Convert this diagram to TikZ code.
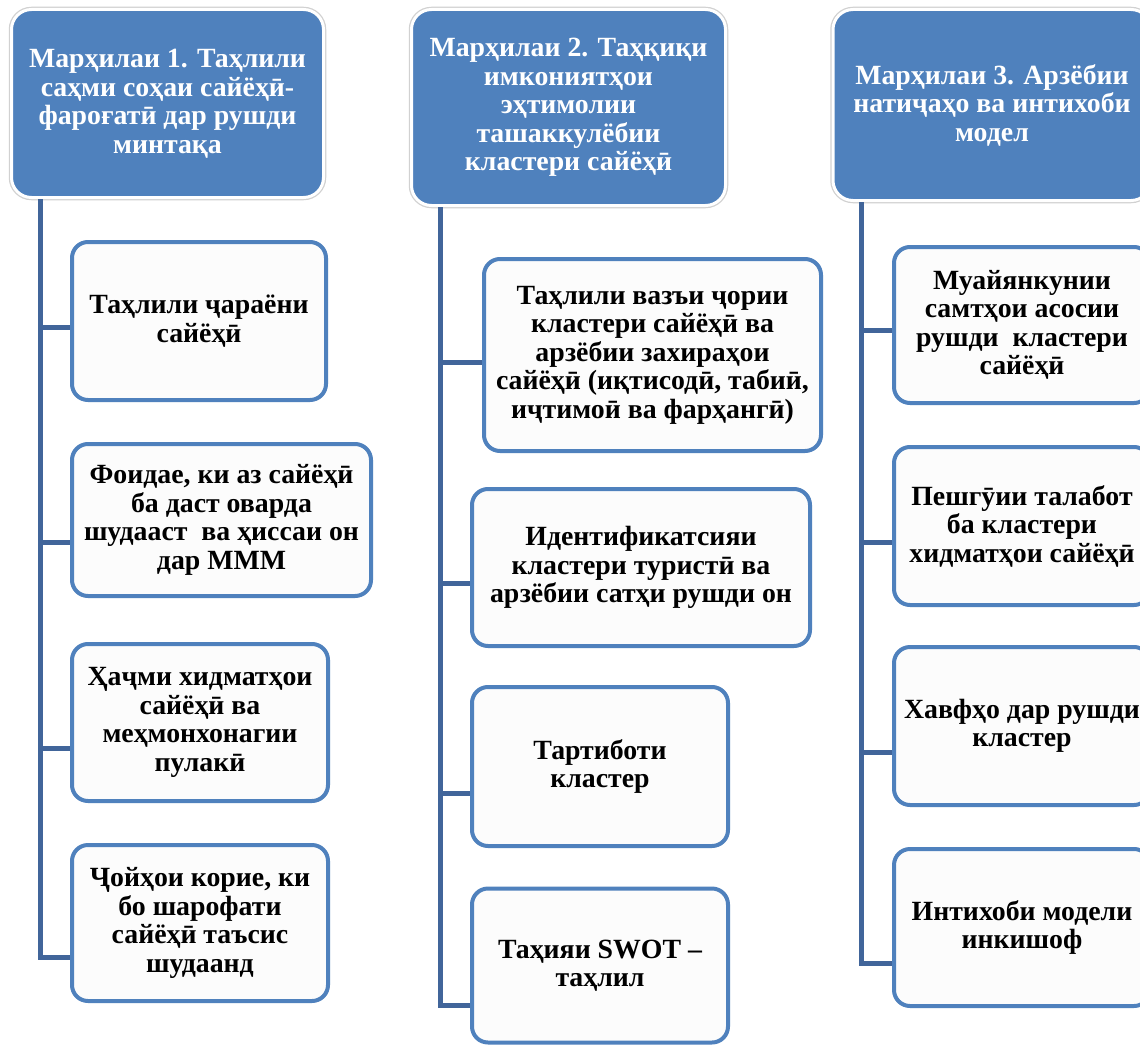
\documentclass[tikz,border=0pt]{standalone}
\usepackage{fontspec}
\setmainfont{Liberation Serif}
\definecolor{hdrblue}{HTML}{4F81BD}
\definecolor{boxblue}{HTML}{4F81BD}
\definecolor{trunkblue}{HTML}{41659A}
\definecolor{boxfill}{HTML}{FCFCFC}
\tikzset{
  hdr/.style={rectangle, rounded corners=20pt, fill=hdrblue, draw=white, line width=3pt,
    preaction={draw=black!18, line width=5.5pt},
    text=white, align=center, inner sep=0pt,
    font=\bfseries\fontsize{27.8}{28.5}\selectfont},
  itembox/.style={rectangle, rounded corners=16pt, fill=boxfill, draw=boxblue, line width=4pt,
    text=black, align=center, inner sep=0pt,
    font=\bfseries\fontsize{27.8}{28.5}\selectfont},
  conn/.style={draw=trunkblue, line width=5pt}
}
\begin{document}
\begin{tikzpicture}[x=1pt,y=-1pt]
\useasboundingbox (0,0) rectangle (1140,1046);
\fill[white] (0,0) rectangle (1140,1046);
\clip (0,0) rectangle (1140,1046);

% headers
\node[hdr, minimum width=312pt, minimum height=188pt] (h1) at (167.5,103.5)
  {Марҳилаи 1. Таҳлили\\саҳми соҳаи сайёҳӣ-\\фароғатӣ дар рушди\\минтақа};
\node[hdr, minimum width=314pt, minimum height=196pt] (h2) at (568.5,107.5)
  {Марҳилаи 2. Таҳқиқи\\имкониятҳои\\эҳтимолии\\ташаккулёбии\\кластери сайёҳӣ};
\node[hdr, minimum width=318pt, minimum height=191pt] (h3) at (992,105)
  {Марҳилаи 3. Арзёбии\\натиҷаҳо ва интихоби\\модел};

% column 1
\node[itembox, minimum width=254pt, minimum height=158pt] (b11) at (199,321)
  {Таҳлили ҷараёни\\сайёҳӣ};
\node[itembox, minimum width=299pt, minimum height=152pt] (b12) at (221.5,520)
  {Фоидае, ки аз сайёҳӣ\\ба даст оварда\\шудааст\ \ ва ҳиссаи он\\дар МММ};
\node[itembox, minimum width=256pt, minimum height=157pt] (b13) at (200,722.5)
  {Ҳаҷми хидматҳои\\сайёҳӣ ва\\меҳмонхонагии\\пулакӣ};
\node[itembox, minimum width=256pt, minimum height=156pt] (b14) at (200,923)
  {Ҷойҳои корие, ки\\бо шарофати\\сайёҳӣ таъсис\\шудаанд};

% column 2
\node[itembox, minimum width=337pt, minimum height=192pt] (b21) at (652.5,355)
  {Таҳлили вазъи ҷории\\кластери сайёҳӣ ва\\арзёбии захираҳои\\сайёҳӣ (иқтисодӣ, табиӣ,\\иҷтимоӣ ва фарҳангӣ)};
\node[itembox, minimum width=338pt, minimum height=157pt] (b22) at (641,567.5)
  {Идентификатсияи\\кластери туристӣ ва\\арзёбии сатҳи рушди он};
\node[itembox, minimum width=256pt, minimum height=159pt] (b23) at (600,766.5)
  {Тартиботи\\кластер};
\node[itembox, minimum width=256pt, minimum height=154pt] (b24) at (600,965.5)
  {Таҳияи SWOT –\\таҳлил};

% column 3
\node[itembox, minimum width=256pt, minimum height=156pt] (b31) at (1022,325)
  {Муайянкунии\\самтҳои асосии\\рушди\ \ кластери\\сайёҳӣ};
\node[itembox, minimum width=256pt, minimum height=158pt] (b32) at (1022,526)
  {Пешгӯии талабот\\ба кластери\\хидматҳои сайёҳӣ};
\node[itembox, minimum width=256pt, minimum height=158pt] (b33) at (1022,726)
  {Хавфҳо дар рушди\\кластер};
\node[itembox, minimum width=256pt, minimum height=157pt] (b34) at (1022,927.5)
  {Интихоби модели\\инкишоф};

% junction coordinates
\coordinate (j11) at (40,327);
\coordinate (j12) at (40,542);
\coordinate (j13) at (40,748);
\coordinate (j14) at (40,957);
\coordinate (j21) at (440,362);
\coordinate (j22) at (440,583);
\coordinate (j23) at (440,793);
\coordinate (j24) at (440,1005);
\coordinate (j31) at (861,330);
\coordinate (j32) at (861,542);
\coordinate (j33) at (861,752);
\coordinate (j34) at (861,963);

% trunks
\draw[conn] (h1.south -| j11) -- (j14) -- (j14 -| b14.west);
\draw[conn] (h2.south -| j21) -- (j24) -- (j24 -| b24.west);
\draw[conn] (h3.south -| j31) -- (j34) -- (j34 -| b34.west);

% branches
\draw[conn] (j11) -- (j11 -| b11.west);
\draw[conn] (j12) -- (j12 -| b12.west);
\draw[conn] (j13) -- (j13 -| b13.west);
\draw[conn] (j21) -- (j21 -| b21.west);
\draw[conn] (j22) -- (j22 -| b22.west);
\draw[conn] (j23) -- (j23 -| b23.west);
\draw[conn] (j31) -- (j31 -| b31.west);
\draw[conn] (j32) -- (j32 -| b32.west);
\draw[conn] (j33) -- (j33 -| b33.west);
\end{tikzpicture}
\end{document}
